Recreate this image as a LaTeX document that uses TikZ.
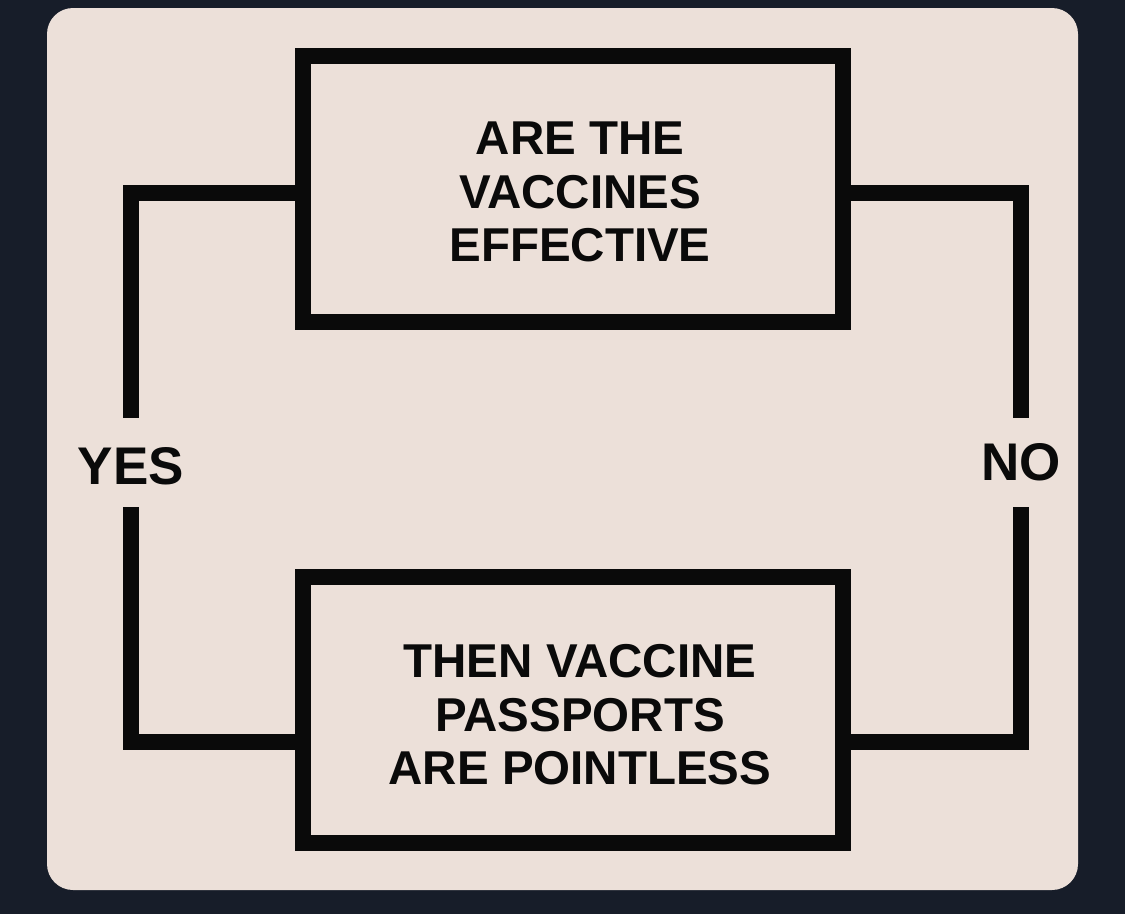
\documentclass[tikz,border=0pt]{standalone}
\usepackage{fontspec}
\setmainfont{Liberation Sans}
\definecolor{bgdark}{HTML}{171D29}
\definecolor{card}{HTML}{ECE0D9}
\definecolor{ink}{HTML}{0A0A0A}
\begin{document}
\begin{tikzpicture}[x=1pt,y=-1pt,
  qbox/.style={draw=ink,line width=16pt,minimum width=540pt,minimum height=266pt,inner sep=0pt},
  qtext/.style={inner sep=0pt,align=center,text=ink,font=\bfseries\fontsize{47.5}{53.5}\selectfont},
  lbl/.style={inner sep=0pt,minimum height=89pt,text=ink,font=\bfseries\fontsize{53}{60}\selectfont},
  wire/.style={draw=ink,line width=16pt,line join=miter}]
\fill[bgdark] (0,0) rectangle (1125,914);
\fill[card,rounded corners=26pt] (47,8) rectangle (1078,890);
\node[qbox] (q) at (573,189) {};
\node[qtext] (qt) at ([shift={(7,3)}]q.center) {ARE THE\\VACCINES\\EFFECTIVE};
\node[qbox] (a) at (573,710) {};
\node[qtext] (at) at ([shift={(7,5)}]a.center) {THEN VACCINE\\PASSPORTS\\ARE POINTLESS};
\node[lbl] (yes) at (131,462.5) {\raisebox{-4pt}[\height][\depth]{YES}};
\node[lbl] (no) at (1021,462.5) {NO};
\coordinate (ytop) at (0,193);
\coordinate (ybot) at (0,742);
\draw[wire] (q.west |- ytop) -| (yes.north);
\draw[wire] (yes.south) |- (a.west |- ybot);
\draw[wire] (q.east |- ytop) -| (no.north);
\draw[wire] (no.south) |- (a.east |- ybot);
\end{tikzpicture}
\end{document}
